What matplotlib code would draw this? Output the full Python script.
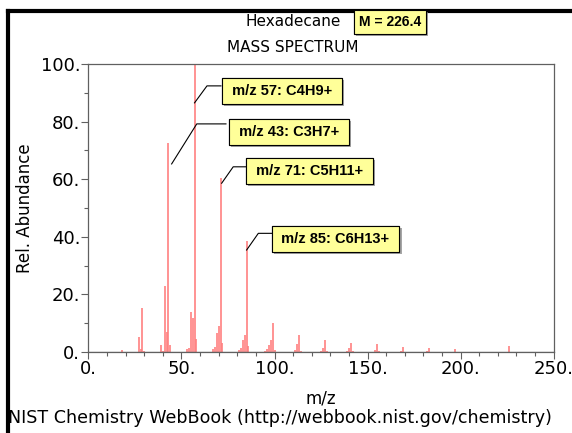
import matplotlib
matplotlib.use("Agg")
import matplotlib.pyplot as plt
import matplotlib.patheffects as pe
from matplotlib.lines import Line2D

# Data: hexadecane EI mass spectrum (m/z, relative abundance)
mz = [18, 27, 28, 29, 30, 39, 40, 41, 42, 43, 44,
      53, 54, 55, 56, 57, 58, 67, 68, 69, 70, 71, 72,
      81, 82, 83, 84, 85, 86, 95, 96, 97, 98, 99, 100,
      111, 112, 113, 114, 125, 126, 127, 128, 139, 140, 141, 142,
      154, 155, 156, 168, 169, 182, 183, 197, 226]
abundance = [0.6, 5.3, 1.0, 15.2, 0.5, 2.5, 0.5, 23.0, 6.8, 72.4, 2.3,
             1.0, 1.4, 13.8, 11.8, 100.0, 4.4, 1.0, 1.6, 6.5, 8.9, 60.5, 3.1,
             0.7, 1.5, 4.3, 6.0, 38.5, 2.2, 0.5, 0.9, 2.4, 4.0, 10.1, 0.8,
             0.8, 2.8, 5.9, 0.5, 0.5, 1.4, 4.2, 0.4, 0.4, 1.3, 3.2, 0.3,
             0.6, 2.7, 0.3, 0.5, 1.7, 0.3, 1.3, 0.9, 2.0]

ann_mz = [57, 43, 71, 85]
ann_text = ["m/z 57: C4H9+", "m/z 43: C3H7+", "m/z 71: C5H11+", "m/z 85: C6H13+"]
# leader line: start (x, y), elbow (x, y), box left x, box centre (x, y)
ann_start = [(57, 86.5), (44.7, 65.3), (71.6, 58.6), (85.0, 35.4)]
ann_elbow = [(63.7, 92.4), (58.2, 79.2), (77.8, 64.3), (91.3, 41.2)]
ann_boxleft = [71.2, 73.9, 85.8, 99.7]
ann_center = [(104.0, 90.6), (107.8, 76.4), (118.8, 62.8), (132.8, 39.2)]

xticks = [0, 50, 100, 150, 200, 250]
yticks = [0, 20, 40, 60, 80, 100]

fig = plt.figure(figsize=(5.72, 4.33), dpi=100)
ax = fig.add_axes([0.1547, 0.1871, 0.8130, 0.6651])

ax.vlines(mz, 0, abundance, color="#ff8080", linewidth=1.2)

ax.set_xlim(0, 250)
ax.set_ylim(0, 100)
ax.set_xticks(xticks)
ax.set_xticklabels([f"{t}." for t in xticks])
ax.set_yticks(yticks)
ax.set_yticklabels([f"{t}." for t in yticks])
ax.set_xticks(range(0, 251, 10), minor=True)
ax.set_yticks(range(0, 101, 10), minor=True)
for s in ax.spines.values():
    s.set_color("#606060")
    s.set_linewidth(0.9)
ax.tick_params(which="major", length=5, width=0.8, color="#606060",
               labelsize=13, pad=1)
ax.tick_params(which="minor", length=3, width=0.8, color="#606060")
ax.axhline(0, color="#606060", linewidth=0.9)

ax.set_xlabel("m/z", fontsize=12, labelpad=8)
ax.set_ylabel("Rel. Abundance", fontsize=12, labelpad=5)

# annotations
for txt, st, el, bl, c in zip(ann_text, ann_start, ann_elbow, ann_boxleft, ann_center):
    ax.plot([st[0], el[0], bl], [st[1], el[1], el[1]], color="black", linewidth=0.8)
    t = ax.text(c[0], c[1], " " + txt + " ", ha="center", va="center", fontsize=10.5,
                fontweight="bold", family="Liberation Sans",
                bbox=dict(boxstyle="square,pad=0.4", fc="#ffff99", ec="black", lw=0.8))
    t.get_bbox_patch().set_path_effects(
        [pe.withSimplePatchShadow(offset=(1.5, -1.5), shadow_rgbFace="gray", alpha=0.7),
         pe.Normal()])

fig.text(293 / 572, 1 - 22 / 433, "Hexadecane", ha="center", va="center", fontsize=11)
fig.text(293 / 572, 1 - 47 / 433, "MASS SPECTRUM", ha="center", va="center", fontsize=11)
m = fig.text(390 / 572, 1 - 22 / 433, "M = 226.4", ha="center", va="center", fontsize=10,
             fontweight="bold", family="Liberation Sans",
             bbox=dict(boxstyle="square,pad=0.35", fc="#ffff99", ec="black", lw=0.8))
m.get_bbox_patch().set_path_effects(
    [pe.withSimplePatchShadow(offset=(1.5, -1.5), shadow_rgbFace="gray", alpha=0.7),
     pe.Normal()])
fig.text(8 / 572, 1 - 418 / 433, "NIST Chemistry WebBook (http://webbook.nist.gov/chemistry)",
         ha="left", va="center", fontsize=12.6)

# black frame at top and left
fig.add_artist(Line2D([8 / 572, 8 / 572], [0, 1 - 11 / 433], color="black", linewidth=3))
fig.add_artist(Line2D([8 / 572, 1], [1 - 11 / 433, 1 - 11 / 433], color="black", linewidth=3))

fig.savefig("out.png", dpi=100)
